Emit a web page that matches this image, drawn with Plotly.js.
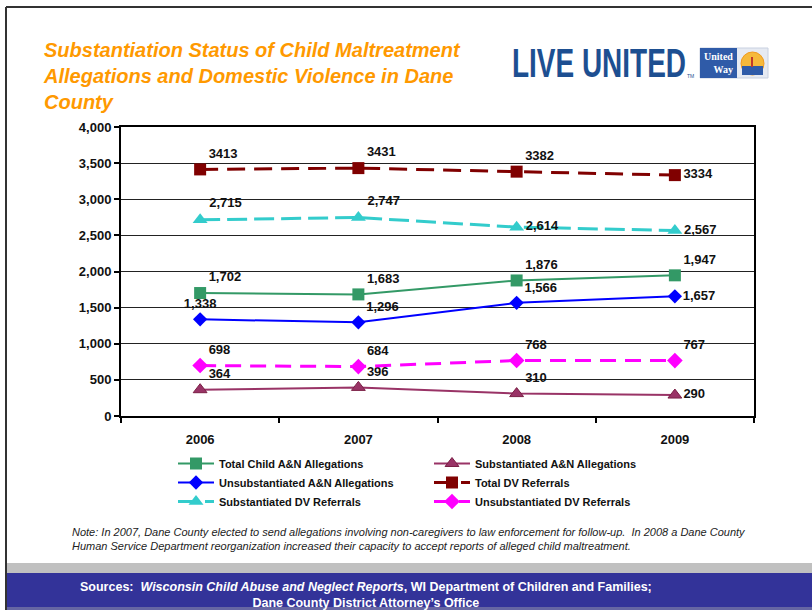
<!DOCTYPE html>
<html>
<head>
<meta charset="utf-8">
<script src="https://cdn.plot.ly/plotly-3.0.1.min.js"></script>
<style>
html,body{margin:0;padding:0;background:#fff;}
#chart{width:812px;height:610px;}
</style>
</head>
<body>
<div id="chart"></div>
<script>
// ---- data ----
var years = ["2006", "2007", "2008", "2009"];
var totalChild = [1702, 1683, 1876, 1947];
var substAN = [364, 396, 310, 290];
var unsubstAN = [1338, 1296, 1566, 1657];
var totalDV = [3413, 3431, 3382, 3334];
var substDV = [2715, 2747, 2614, 2567];
var unsubstDV = [698, 684, 768, 767];
var seriesNames = ["Total Child A&N Allegations", "Substantiated A&N Allegations",
  "Unsubstantiated A&N Allegations", "Total DV Referrals",
  "Substantiated DV Referrals", "Unsubstantiated DV Referrals"];
var titleText = "Substantiation Status of Child Maltreatment<br>Allegations and Domestic Violence in Dane<br>County";
var noteText = "Note: In 2007, Dane County elected to send allegations involving non-caregivers to law enforcement for follow-up.  In 2008 a Dane County<br>Human Service Department reorganization increased their capacity to accept reports of alleged child maltreatment.";
var sourceText = "Sources:  <i>Wisconsin Child Abuse and Neglect Reports</i>, WI Department of Children and Families;<br>Dane County District Attorney’s Office";

// ---- layout geometry (pixels) ----
var W = 812, H = 610, L = 121, R = 754, T = 127, B = 416;
function px(x){ return (x - L) / (R - L); }
function py(y){ return (B - y) / (B - T); }

var FONT = "Arial, 'Liberation Sans', sans-serif";
var fmt = function(v){ return v.toLocaleString("en-US"); };
var plain = function(v){ return String(v); };

function mk(name, y, color, symbol, size, dash, width, labelFmt, pos){
  return {
    type: "scatter", mode: "lines+markers+text", name: name,
    x: years, y: y,
    text: y.map(labelFmt),
    textposition: pos,
    textfont: {family: FONT, size: 13, color: "#111", weight: "bold"},
    line: {color: color, width: width, dash: dash},
    marker: {symbol: symbol, size: size, color: color, line: {width: 0}},
    cliponaxis: false,
    hoverinfo: "skip"
  };
}

var traces = [
  mk(seriesNames[0], totalChild, "#339966", "square", 12, "solid", 2, fmt,
     ["top right","top right","top right","top right"]),
  mk(seriesNames[1], substAN, "#993366", "triangle-up", 12, "solid", 2, fmt,
     ["top right","top right","top right","middle right"]),
  mk(seriesNames[2], unsubstAN, "#0000FF", "diamond", 11, "solid", 2, fmt,
     ["top center","top right","top right","middle right"]),
  mk(seriesNames[3], totalDV, "#800000", "square", 12, "18px,9px", 3, plain,
     ["top right","top right","top right","middle right"]),
  mk(seriesNames[4], substDV, "#33CCCC", "triangle-up", 13, "20px,7px", 3, fmt,
     ["top right","top right","middle right","middle right"]),
  mk(seriesNames[5], unsubstDV, "#FF00FF", "diamond", 12, "16px,9px", 3, fmt,
     ["top right","top right","top right","top right"])
];
traces[1].marker.line = {width: 1, color: "#7a1f45"};

var shapes = [
  // outer frame
  {type:"line", xref:"paper", yref:"paper", x0:px(6), x1:px(812), y0:py(7), y1:py(7), line:{color:"#333", width:2}},
  {type:"line", xref:"paper", yref:"paper", x0:px(6), x1:px(6), y0:py(7), y1:py(610), line:{color:"#333", width:2}},
  // bottom bands
  {type:"rect", xref:"paper", yref:"paper", x0:px(7), x1:px(812), y0:py(563), y1:py(573), fillcolor:"#C0C0C0", line:{width:0}, layer:"below"},
  {type:"rect", xref:"paper", yref:"paper", x0:px(7), x1:px(812), y0:py(573), y1:py(607), fillcolor:"#333399", line:{width:0}, layer:"below"},
  {type:"rect", xref:"paper", yref:"paper", x0:px(7), x1:px(812), y0:py(607), y1:py(610), fillcolor:"#6666A3", line:{width:0}, layer:"below"},
  // logo
  {type:"rect", xref:"paper", yref:"paper", x0:px(700), x1:px(768), y0:py(48), y1:py(78), fillcolor:"#E6EAF2", line:{color:"#c8d0e0", width:1}},
  {type:"rect", xref:"paper", yref:"paper", x0:px(700), x1:px(737), y0:py(48), y1:py(78), fillcolor:"#2F5BA8", line:{width:0}},
  {type:"circle", xref:"paper", yref:"paper", x0:px(741), x1:px(764), y0:py(52), y1:py(75), fillcolor:"#F6B93B", line:{color:"#F09A20", width:1}},
  {type:"rect", xref:"paper", yref:"paper", x0:px(742), x1:px(763), y0:py(66), y1:py(75), fillcolor:"#2F5BA8", line:{width:0}},
  {type:"rect", xref:"paper", yref:"paper", x0:px(751), x1:px(753), y0:py(57), y1:py(67), fillcolor:"#C0392B", line:{width:0}}
];

var annotations = [
  {xref:"paper", yref:"paper", x:px(510), y:py(63), xanchor:"left", yanchor:"middle",
   text:"LIVE UNITED", showarrow:false,
   font:{family:FONT, size:40, color:"#1D4F91", weight:"bold"}},
  {xref:"paper", yref:"paper", x:px(685), y:py(76), xanchor:"left", yanchor:"middle",
   text:"TM", showarrow:false, font:{family:FONT, size:5, color:"#1D4F91"}},
  {xref:"paper", yref:"paper", x:px(735), y:py(63), xanchor:"right", yanchor:"middle",
   text:"United<br>Way", align:"right", showarrow:false,
   font:{family:"'Liberation Serif', 'DejaVu Serif', serif", size:10, color:"#fff", weight:"bold"}},
  {xref:"paper", yref:"paper", x:px(70), y:py(524), xanchor:"left", yanchor:"top",
   text:noteText, align:"left", showarrow:false,
   font:{family:FONT, size:11, color:"#222", style:"italic"}},
  {xref:"paper", yref:"paper", x:px(366), y:py(578), xanchor:"center", yanchor:"top",
   text:sourceText, align:"center", showarrow:false,
   font:{family:FONT, size:12.5, color:"#fff", weight:"bold"}}
];

var layout = {
  width: W, height: H,
  margin: {l: L, r: W - R, t: T, b: H - B, pad: 0},
  paper_bgcolor: "#fff", plot_bgcolor: "#fff",
  showlegend: true,
  title: {
    text: titleText, x: 44 / W, xanchor: "left", xref: "container",
    y: 1 - 57 / H, yanchor: "top", yref: "container",
    font: {family: FONT, size: 20, color: "#FF9900", weight: "bold", style: "italic"}
  },
  xaxis: {
    type: "category", range: [-0.5, 3.5], tickson: "boundaries",
    ticks: "outside", ticklen: 5, tickcolor: "#000", tickwidth: 2,
    ticklabelstandoff: 10,
    showline: true, linecolor: "#000", linewidth: 2, mirror: true,
    showgrid: false, zeroline: false, fixedrange: true,
    tickfont: {family: FONT, size: 13, color: "#111", weight: "bold"}
  },
  yaxis: {
    range: [0, 4000], dtick: 500, tickformat: ",d",
    ticks: "outside", ticklen: 5, tickcolor: "#000", tickwidth: 2,
    showline: true, linecolor: "#000", linewidth: 2, mirror: true,
    showgrid: true, gridcolor: "#222", gridwidth: 1, zeroline: false, fixedrange: true,
    tickfont: {family: FONT, size: 13, color: "#111", weight: "bold"}
  },
  legend: {
    orientation: "h", x: px(173), xanchor: "left", y: py(449), yanchor: "top",
    entrywidth: 205, entrywidthmode: "pixels", traceorder: "normal",
    font: {family: FONT, size: 11, color: "#111", weight: "bold"},
    bgcolor: "rgba(0,0,0,0)", borderwidth: 0, itemwidth: 36
  },
  shapes: shapes,
  annotations: annotations
};

Plotly.newPlot("chart", traces, layout, {staticPlot: true, displayModeBar: false}).then(function(gd){
  // condense the "LIVE UNITED" logo text to its narrow look
  var t = gd.querySelector('.annotation[data-index="0"] text');
  if (t) {
    var bb = t.getBBox();
    var s = 174 / bb.width;
    var x0 = bb.x;
    var prev = t.getAttribute("transform") || "";
    t.setAttribute("transform", prev + " translate(" + x0 + ",0) scale(" + s + ",1) translate(" + (-x0) + ",0)");
  }
});
</script>
</body>
</html>
